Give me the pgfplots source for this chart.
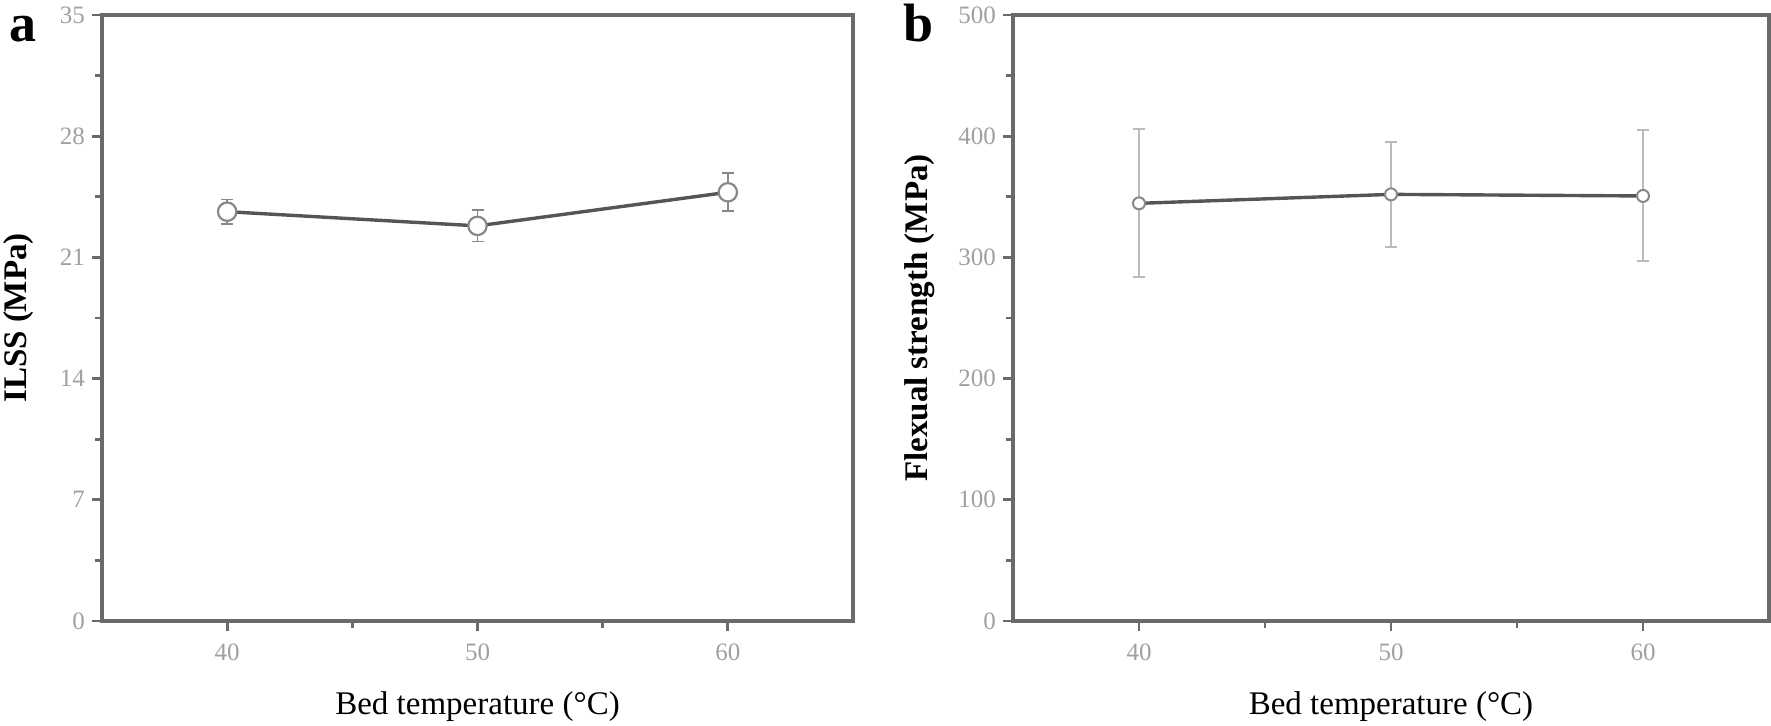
\documentclass[border=0pt]{standalone}
\usepackage{fontspec}
\setmainfont{Liberation Serif}
\usepackage{pgfplots}
\pgfplotsset{compat=1.18}
\definecolor{axgray}{HTML}{6A6A6A}
\definecolor{ticklab}{HTML}{A0A0A0}
\definecolor{linegray}{HTML}{555555}
\definecolor{mkgray}{HTML}{888888}
\definecolor{errgray}{HTML}{BBBBBB}
\begin{document}
\begin{tikzpicture}
\useasboundingbox (0,0) rectangle (885.5pt,363pt);
\pgfplotsset{
 common/.style={
  scale only axis, anchor=south west,
  height=303pt,
  xmin=35, xmax=65, xtick={40,50,60}, minor xtick={45,55},
  ymin=0,
  axis line style={axgray, line width=1.6pt},
  tick style={axgray, line width=1.4pt},
  major tick length=5pt, minor tick length=3.5pt,
  tick align=outside, xtick pos=bottom, ytick pos=left,
  ticklabel style={font=\fontsize{12.5}{14}\selectfont, text=ticklab},
  xticklabel style={yshift=-3pt},
  /pgf/number format/assume math mode=true,
  minor y tick num=1,
  xlabel={Bed temperature (°C)},
  xlabel style={font=\fontsize{16.5}{19}\selectfont, at={(axis description cs:0.5,-0.142)}, anchor=center},
  ylabel style={font=\bfseries\fontsize{16.5}{19}\selectfont, anchor=center},
 }
}
\begin{axis}[common, at={(51pt,52.5pt)}, width=375.5pt,
  ymax=35, ytick={0,7,14,21,28,35},
  ylabel={ILSS (MPa)},
  ylabel style={at={(axis description cs:-0.1105,0.5)}}]
\addplot[draw=linegray, line width=1.7pt,
  mark=*, mark size=4.6pt, mark options={fill=white, draw=mkgray, line width=1.1pt},
  error bars/.cd, y dir=both, y explicit,
  error bar style={draw=mkgray, line width=0.9pt},
  error mark options={rotate=90, mark size=3pt, draw=mkgray, line width=0.9pt}]
  coordinates {(40,23.64) +- (0,0.7) (50,22.82) +- (0,0.9) (60,24.76) +- (0,1.1)};
\end{axis}
\begin{axis}[common, at={(506.5pt,52.5pt)}, width=378pt,
  ymax=500, ytick={0,100,200,300,400,500},
  ylabel={Flexual strength (MPa)},
  ylabel style={at={(axis description cs:-0.123,0.5)}}]
\addplot[draw=linegray, line width=1.7pt,
  mark=*, mark size=3pt, mark options={fill=white, draw=mkgray, line width=1pt},
  error bars/.cd, y dir=both, y explicit,
  error bar style={draw=errgray, line width=1pt},
  error mark options={rotate=90, mark size=3pt, draw=errgray, line width=1pt}]
  coordinates {(40,344.6) +- (0,61) (50,352) +- (0,43.5) (60,350.7) +- (0,54)};
\end{axis}
\node[font=\bfseries\fontsize{27}{32}\selectfont, anchor=base] at (11.5pt,342pt) {a};
\node[font=\bfseries\fontsize{27}{32}\selectfont, anchor=base] at (459.5pt,342pt) {b};
\end{tikzpicture}
\end{document}
